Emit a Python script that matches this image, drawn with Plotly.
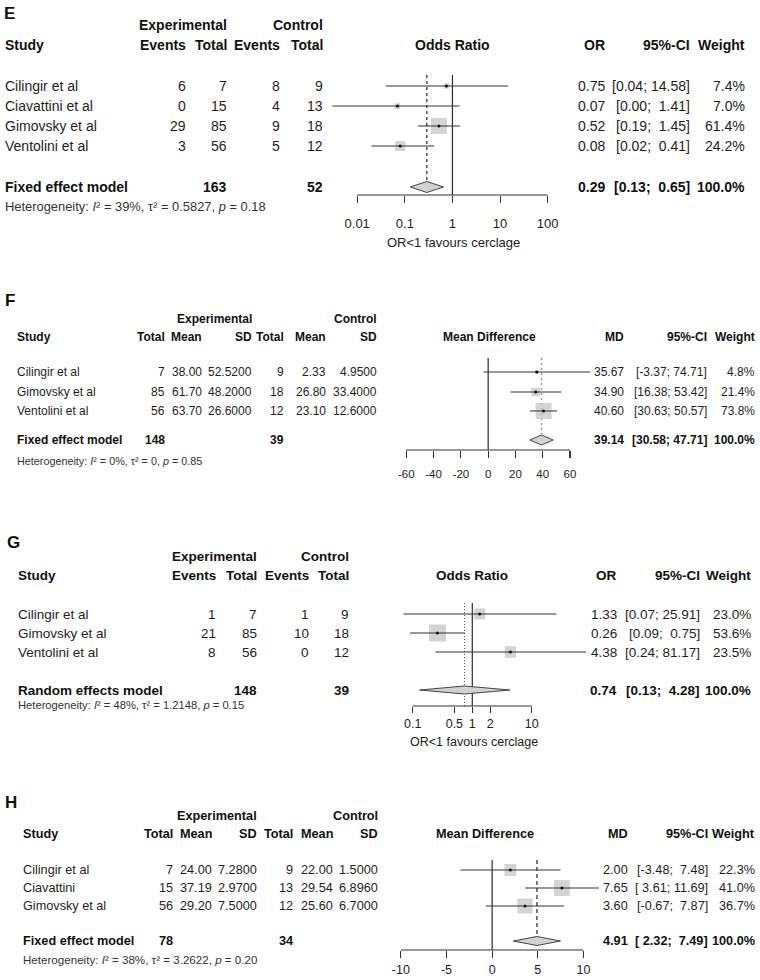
import math
import plotly.graph_objects as go

FONT = "Liberation Sans, Arial, Helvetica, sans-serif"
W, H = 760, 980
TXT = "#1e1e1e"

# ---------------- Panel E (odds ratio, fixed effect) ----------------
E_study = ["Cilingir et al", "Ciavattini et al", "Gimovsky et al", "Ventolini et al"]
E_exp_events = [6, 0, 29, 3]
E_exp_total = [7, 15, 85, 56]
E_ctl_events = [8, 4, 9, 5]
E_ctl_total = [9, 13, 18, 12]
E_est = [0.75, 0.07, 0.52, 0.08]
E_lo = [0.04, 0.003, 0.19, 0.02]
E_hi = [14.58, 1.41, 1.45, 0.41]
E_weight = [7.4, 7.0, 61.4, 24.2]
E_pooled = [0.29, 0.13, 0.65]
E_totals = [163, 52]
E_het = ["39%", "0.5827", "0.18"]
E_ticks = [0.01, 0.1, 1, 10, 100]
E_ticklabels = ["0.01", "0.1", "1", "10", "100"]

# ---------------- Panel F (mean difference, fixed effect) ----------------
F_study = ["Cilingir et al", "Gimovsky et al", "Ventolini et al"]
F_exp_total = [7, 85, 56]
F_exp_mean = [38.00, 61.70, 63.70]
F_exp_sd = [52.52, 48.20, 26.60]
F_ctl_total = [9, 18, 12]
F_ctl_mean = [2.33, 26.80, 23.10]
F_ctl_sd = [4.95, 33.40, 12.60]
F_est = [35.67, 34.90, 40.60]
F_lo = [-3.37, 16.38, 30.63]
F_hi = [74.71, 53.42, 50.57]
F_weight = [4.8, 21.4, 73.8]
F_pooled = [39.14, 30.58, 47.71]
F_totals = [148, 39]
F_het = ["0%", "0", "0.85"]
F_ticks = [-60, -40, -20, 0, 20, 40, 60]
F_ticklabels = ["-60", "-40", "-20", "0", "20", "40", "60"]

# ---------------- Panel G (odds ratio, random effects) ----------------
G_study = ["Cilingir et al", "Gimovsky et al", "Ventolini et al"]
G_exp_events = [1, 21, 8]
G_exp_total = [7, 85, 56]
G_ctl_events = [1, 10, 0]
G_ctl_total = [9, 18, 12]
G_est = [1.33, 0.26, 4.38]
G_lo = [0.07, 0.09, 0.24]
G_hi = [25.91, 0.75, 81.17]
G_weight = [23.0, 53.6, 23.5]
G_pooled = [0.74, 0.13, 4.28]
G_totals = [148, 39]
G_het = ["48%", "1.2148", "0.15"]
G_ticks = [0.1, 0.5, 1, 2, 10]
G_ticklabels = ["0.1", "0.5", "1", "2", "10"]

# ---------------- Panel H (mean difference, fixed effect) ----------------
H_study = ["Cilingir et al", "Ciavattini", "Gimovsky et al"]
H_exp_total = [7, 15, 56]
H_exp_mean = [24.00, 37.19, 29.20]
H_exp_sd = [7.28, 2.97, 7.50]
H_ctl_total = [9, 13, 12]
H_ctl_mean = [22.00, 29.54, 25.60]
H_ctl_sd = [1.50, 6.896, 6.70]
H_est = [2.00, 7.65, 3.60]
H_lo = [-3.48, 3.61, -0.67]
H_hi = [7.48, 11.69, 7.87]
H_weight = [22.3, 41.0, 36.7]
H_pooled = [4.91, 2.32, 7.49]
H_totals = [78, 34]
H_het = ["38%", "3.2622", "0.20"]
H_ticks = [-10, -5, 0, 5, 10]
H_ticklabels = ["-10", "-5", "0", "5", "10"]

NB = "\u00a0"
LEFT_FIX = -8  # compensation for left-anchored annotation offset


def f_int(v):
    return f"{v:d}"


def f2(v):
    return f"{v:.2f}"


def f4(v):
    return f"{v:.4f}"


panels = [
    dict(letter="E", lx=4, ly=13, fs=14, hfs=12.9, tfs=13, name_x=5,
         grp_y=25, head_y=45, rows=[86, 106, 126, 146], sum_y=187, het_y=207,
         groups=[("Experimental", 225), ("Control", 322)],
         cols=[("Events", 183, E_exp_events, f_int, None),
               ("Total", 225, E_exp_total, f_int, E_totals[0]),
               ("Events", 278, E_ctl_events, f_int, None),
               ("Total", 322, E_ctl_total, f_int, E_totals[1])],
         study=E_study, model="Fixed effect model", het=E_het,
         measure="Odds Ratio", mx=450, est_h="OR", est_x=606, ci_x=691, w_x=747,
         est=E_est, lo=E_lo, hi=E_hi, w=E_weight, pooled=E_pooled,
         log=True, null=1, null_px=450, unit_px=48, dom=(320, 560),
         axis_y=195, top_y=75, pool_bot=180, smax=16, dh=5.5,
         pool_line=dict(color="#222", width=1.2, dash="3px,3px"),
         ticks=E_ticks, ticklabels=E_ticklabels, standoff=9,
         favours=("OR<1 favours cerclage", 451, 243)),
    dict(letter="F", lx=5, ly=300, fs=12, hfs=10.8, tfs=11.5, name_x=17,
         grp_y=319, head_y=337, rows=[372, 392, 411], sum_y=440, het_y=461,
         groups=[("Experimental", 250), ("Control", 376)],
         cols=[("Total", 162, F_exp_total, f_int, F_totals[0]),
               ("Mean", 200, F_exp_mean, f2, None),
               ("SD", 250, F_exp_sd, f4, None),
               ("Total", 282, F_ctl_total, f_int, F_totals[1]),
               ("Mean", 325, F_ctl_mean, f2, None),
               ("SD", 376, F_ctl_sd, f4, None)],
         study=F_study, model="Fixed effect model", het=F_het,
         measure="Mean Difference", mx=487, est_h="MD", est_x=625, ci_x=709, w_x=757,
         est=F_est, lo=F_lo, hi=F_hi, w=F_weight, pooled=F_pooled,
         log=False, null=0, null_px=486, unit_px=1.375, dom=(395, 600),
         axis_y=450, top_y=358, pool_bot=434, smax=16, dh=5,
         pool_line=dict(color="#9a9a9a", width=1.5, dash="2px,3px"),
         ticks=F_ticks, ticklabels=F_ticklabels, standoff=6, favours=None),
    dict(letter="G", lx=7, ly=542, fs=13.5, hfs=11.2, tfs=12.5, name_x=18,
         grp_y=556, head_y=575, rows=[614, 633, 652], sum_y=690, het_y=705,
         groups=[("Experimental", 255), ("Control", 348)],
         cols=[("Events", 214, G_exp_events, f_int, None),
               ("Total", 255, G_exp_total, f_int, G_totals[0]),
               ("Events", 307, G_ctl_events, f_int, None),
               ("Total", 348, G_ctl_total, f_int, G_totals[1])],
         study=G_study, model="Random effects model", het=G_het,
         measure="Odds Ratio", mx=470, est_h="OR", est_x=618, ci_x=702, w_x=753,
         est=G_est, lo=G_lo, hi=G_hi, w=G_weight, pooled=G_pooled,
         log=True, null=1, null_px=470, unit_px=60, dom=(395, 600),
         axis_y=706, top_y=603, pool_bot=706, smax=17, dh=4,
         pool_line=dict(color="#555", width=1, dash="1px,2px"),
         ticks=G_ticks, ticklabels=G_ticklabels, standoff=0,
         favours=("OR<1 favours cerclage", 472, 742)),
    dict(letter="H", lx=5, ly=802, fs=12.7, hfs=11.6, tfs=12.5, name_x=23,
         grp_y=816, head_y=834, rows=[870, 888, 906], sum_y=941, het_y=959,
         groups=[("Experimental", 255), ("Control", 377)],
         cols=[("Total", 170, H_exp_total, f_int, H_totals[0]),
               ("Mean", 210, H_exp_mean, f2, None),
               ("SD", 255, H_exp_sd, f4, None),
               ("Total", 291, H_ctl_total, f_int, H_totals[1]),
               ("Mean", 332, H_ctl_mean, f2, None),
               ("SD", 377, H_ctl_sd, f4, None)],
         study=H_study, model="Fixed effect model", het=H_het,
         measure="Mean Difference", mx=483, est_h="MD", est_x=629, ci_x=710, w_x=757,
         est=H_est, lo=H_lo, hi=H_hi, w=H_weight, pooled=H_pooled,
         log=False, null=0, null_px=490, unit_px=9.2, dom=(395, 600),
         axis_y=950, top_y=860, pool_bot=935, smax=16, dh=4.5,
         pool_line=dict(color="#222", width=1.2, dash="4px,3px"),
         ticks=H_ticks, ticklabels=H_ticklabels, standoff=1, favours=None),
]

fig = go.Figure()
annotations = []


def txt(s, x, y, anchor="left", size=12, bold=False, color=TXT):
    if bold:
        s = f"<b>{s}</b>"
    if anchor == "left":
        x = x + LEFT_FIX
    annotations.append(dict(text=s, x=x / W, y=1 - y / H, xref="paper", yref="paper",
                            xanchor=anchor, yanchor="middle", showarrow=False,
                            font=dict(size=size, family=FONT, color=color)))


def ci_strings(lo, hi):
    los = [f"{v:.2f}" for v in lo]
    his = [f"{v:.2f}" for v in hi]
    wl = max(len(s) for s in los)
    wh = max(len(s) for s in his)
    return ["[" + a.rjust(wl) + "; " + b.rjust(wh) + "]" for a, b in zip(los, his)]


layout_axes = {}
for k, p in enumerate(panels):
    xa = "x" if k == 0 else f"x{k + 1}"
    fs = p["fs"]
    # ---- text table ----
    txt(p["letter"], p["lx"], p["ly"], "left", 17, True, "#111")
    for g, gx in p["groups"]:
        txt(g, gx, p["grp_y"], "right", fs, True, "#111")
    txt("Study", p["name_x"], p["head_y"], "left", fs, True, "#111")
    for head, cx, vals, fmt, tot in p["cols"]:
        txt(head, cx, p["head_y"], "right", fs, True, "#111")
        for v, y in zip(vals, p["rows"]):
            txt(fmt(v), cx, y, "right", fs)
        if tot is not None:
            txt(str(tot), cx, p["sum_y"], "right", fs, True, "#111")
    for s, y in zip(p["study"], p["rows"]):
        txt(s, p["name_x"], y, "left", fs)
    txt(p["model"], p["name_x"], p["sum_y"], "left", fs, True, "#111")
    i2, t2, pv = p["het"]
    txt(f"Heterogeneity: <i>I</i>\u00b2 = {i2}, \u03c4\u00b2 = {t2}, <i>p</i> = {pv}",
        p["name_x"], p["het_y"], "left", p["hfs"], False, "#333")

    # right-hand columns
    txt(p["measure"], p["mx"], p["head_y"], "center", fs, True, "#111")
    txt(p["est_h"], p["est_x"], p["head_y"], "right", fs, True, "#111")
    txt("95%-CI", p["ci_x"], p["head_y"], "right", fs, True, "#111")
    txt("Weight", p["w_x"], p["head_y"], "right", fs, True, "#111")
    cis = ci_strings(p["lo"] + [p["pooled"][1]], p["hi"] + [p["pooled"][2]])
    for e, c, wv, y in zip(p["est"], cis[:-1], p["w"], p["rows"]):
        txt(f"{e:.2f}", p["est_x"], y, "right", fs)
        txt(c.replace(" ", NB), p["ci_x"], y, "right", fs)
        txt(f"{wv:.1f}%", p["w_x"], y, "right", fs)
    txt(f"{p['pooled'][0]:.2f}", p["est_x"], p["sum_y"], "right", fs, True, "#111")
    txt(cis[-1].replace(" ", NB), p["ci_x"], p["sum_y"], "right", fs, True, "#111")
    txt(f"{100.0:.1f}%", p["w_x"], p["sum_y"], "right", fs, True, "#111")
    if p["favours"]:
        ft, fx, fy = p["favours"]
        txt(ft, fx, fy, "center", p["tfs"], False, "#222")

    # ---- forest graphics ----
    common = dict(xaxis=xa, yaxis="y", hoverinfo="skip", showlegend=False)
    rows = p["rows"]
    fig.add_trace(go.Scatter(x=[p["null"], p["null"]], y=[p["top_y"], p["axis_y"]], mode="lines",
                             line=dict(color="#2a2a2a", width=1.2), **common))
    pe, pl, ph = p["pooled"]
    fig.add_trace(go.Scatter(x=[pe, pe], y=[p["top_y"], p["pool_bot"]], mode="lines",
                             line=p["pool_line"], **common))
    wmax = max(p["w"])
    sizes = [p["smax"] * math.sqrt(v / wmax) for v in p["w"]]
    fig.add_trace(go.Scatter(x=p["est"], y=rows, mode="markers",
                             marker=dict(symbol="square", size=sizes, color="#c2c2c2",
                                         line=dict(width=0)), **common))
    xs, ys = [], []
    for a, b, y in zip(p["lo"], p["hi"], rows):
        xs += [a, b, None]
        ys += [y, y, None]
    fig.add_trace(go.Scatter(x=xs, y=ys, mode="lines", line=dict(color="#333", width=1.1), **common))
    fig.add_trace(go.Scatter(x=p["est"], y=rows, mode="markers",
                             marker=dict(symbol="circle", size=3, color="#111"), **common))
    yc, hh = p["sum_y"], p["dh"]
    fig.add_trace(go.Scatter(x=[pl, pe, ph, pe, pl], y=[yc, yc - hh, yc, yc + hh, yc],
                             mode="lines", fill="toself", fillcolor="#d2d2d2",
                             line=dict(color="#444", width=1), **common))
    fig.add_trace(go.Scatter(x=[p["ticks"][0], p["ticks"][-1]], y=[p["axis_y"], p["axis_y"]],
                             mode="lines", line=dict(color="#333", width=1.1), **common))

    d0, d1 = p["dom"]
    base = math.log10(p["null"]) if p["log"] else p["null"]
    rng = [base + (d0 - p["null_px"]) / p["unit_px"], base + (d1 - p["null_px"]) / p["unit_px"]]
    axname = "xaxis" if k == 0 else f"xaxis{k + 1}"
    layout_axes[axname] = dict(
        domain=[d0 / W, d1 / W], range=rng, type="log" if p["log"] else "linear",
        anchor="free", position=1 - p["axis_y"] / H,
        showline=False, showgrid=False, zeroline=False,
        ticks="outside", ticklen=7 if k != 2 else 6, tickwidth=1.1, tickcolor="#333",
        tickmode="array", tickvals=p["ticks"], ticktext=p["ticklabels"],
        tickfont=dict(size=p["tfs"], family=FONT, color="#222"),
        ticklabelstandoff=p["standoff"], fixedrange=True)

fig.update_layout(
    width=W, height=H, margin=dict(l=0, r=0, t=0, b=0),
    paper_bgcolor="white", plot_bgcolor="rgba(0,0,0,0)",
    yaxis=dict(domain=[0, 1], range=[H, 0], visible=False, fixedrange=True),
    annotations=annotations, showlegend=False,
    **layout_axes,
)

fig.write_html("out.html", config={"displayModeBar": False, "staticPlot": True},
               post_script="document.body.style.margin='0';document.body.style.overflow='hidden';")
